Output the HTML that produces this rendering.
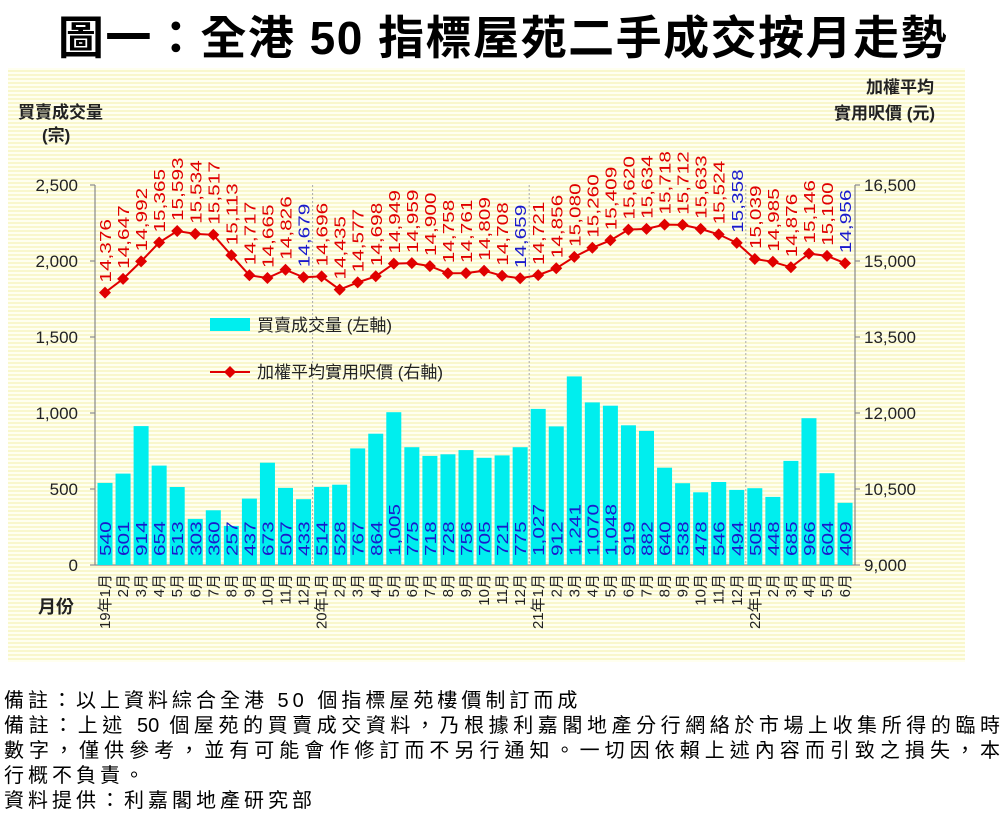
<!DOCTYPE html>
<html><head><meta charset="utf-8"><style>
body{margin:0;background:#fff;width:1006px;height:839px;overflow:hidden;font-family:"Liberation Sans","Noto Sans CJK TC",sans-serif}
.bg{position:absolute;left:8px;top:68px;width:957px;height:594px;background:repeating-linear-gradient(180deg,#fffff0 0px,#fffff0 2px,#f9f7cc 2px,#f9f7cc 4px)}
.title{position:absolute;left:0;top:2px;width:1006px;text-align:center;font-size:46px;font-weight:bold;color:#000;letter-spacing:1.5px;white-space:nowrap}
.notes{position:absolute;left:4px;top:689px;font-size:20px;line-height:25px;color:#000;width:998px;letter-spacing:4px;white-space:nowrap}
.notes div{height:25px}
.notes .j{text-align:justify;text-align-last:justify;letter-spacing:0;width:996px}
svg{position:absolute;left:0;top:0}
</style></head><body>
<div class="bg"></div>
<div class="title">圖一：全港 50 指標屋苑二手成交按月走勢</div>
<svg width="1006" height="839" font-family="Liberation Sans, Noto Sans CJK TC, sans-serif">
<g font-size="17" font-weight="bold" fill="#222">
<text x="18" y="118">買賣成交量</text><text x="42" y="141">(宗)</text>
<text x="866" y="93">加權平均</text><text x="834" y="119">實用呎價 (元)</text>
<text x="38" y="613" font-size="18">月份</text>
</g>
<g stroke="#888" stroke-width="1.2">
<line x1="95" y1="185" x2="95" y2="565"/><line x1="855" y1="185" x2="855" y2="565"/><line x1="95" y1="565" x2="855" y2="565"/>
<line x1="90" y1="185" x2="95" y2="185"/><line x1="90" y1="261" x2="95" y2="261"/><line x1="90" y1="337" x2="95" y2="337"/><line x1="90" y1="413" x2="95" y2="413"/><line x1="90" y1="489" x2="95" y2="489"/><line x1="90" y1="565" x2="95" y2="565"/>
<line x1="855" y1="185" x2="860" y2="185"/><line x1="855" y1="261" x2="860" y2="261"/><line x1="855" y1="337" x2="860" y2="337"/><line x1="855" y1="413" x2="860" y2="413"/><line x1="855" y1="489" x2="860" y2="489"/><line x1="855" y1="565" x2="860" y2="565"/>
</g>
<g stroke="#aaa" stroke-width="1" stroke-dasharray="2,2">
<line x1="312.6" y1="185" x2="312.6" y2="565"/><line x1="529.2" y1="185" x2="529.2" y2="565"/><line x1="745.8" y1="185" x2="745.8" y2="565"/>
</g>
<g font-size="17" fill="#222" text-anchor="end">
<text x="78" y="191">2,500</text><text x="78" y="267">2,000</text><text x="78" y="343">1,500</text><text x="78" y="419">1,000</text><text x="78" y="495">500</text><text x="78" y="571">0</text>
</g>
<g font-size="17" fill="#222">
<text x="864" y="191">16,500</text><text x="864" y="267">15,000</text><text x="864" y="343">13,500</text><text x="864" y="419">12,000</text><text x="864" y="495">10,500</text><text x="864" y="571">9,000</text>
</g>
<g fill="#00eeee">
<rect x="97.5" y="482.9" width="15" height="82.1"/><rect x="115.55" y="473.6" width="15" height="91.4"/><rect x="133.6" y="426.1" width="15" height="138.9"/><rect x="151.65" y="465.6" width="15" height="99.4"/><rect x="169.7" y="487" width="15" height="78"/><rect x="187.75" y="518.9" width="15" height="46.1"/><rect x="205.8" y="510.3" width="15" height="54.7"/><rect x="223.85" y="525.9" width="15" height="39.1"/><rect x="241.9" y="498.6" width="15" height="66.4"/><rect x="259.95" y="462.7" width="15" height="102.3"/><rect x="278" y="487.9" width="15" height="77.1"/><rect x="296.05" y="499.2" width="15" height="65.8"/>
<rect x="314.1" y="486.9" width="15" height="78.1"/><rect x="332.15" y="484.7" width="15" height="80.3"/><rect x="350.2" y="448.4" width="15" height="116.6"/><rect x="368.25" y="433.7" width="15" height="131.3"/><rect x="386.3" y="412.2" width="15" height="152.8"/><rect x="404.35" y="447.2" width="15" height="117.8"/><rect x="422.4" y="455.9" width="15" height="109.1"/><rect x="440.45" y="454.3" width="15" height="110.7"/><rect x="458.5" y="450.1" width="15" height="114.9"/><rect x="476.55" y="457.8" width="15" height="107.2"/><rect x="494.6" y="455.4" width="15" height="109.6"/><rect x="512.65" y="447.2" width="15" height="117.8"/>
<rect x="530.7" y="408.9" width="15" height="156.1"/><rect x="548.75" y="426.4" width="15" height="138.6"/><rect x="566.8" y="376.4" width="15" height="188.6"/><rect x="584.85" y="402.4" width="15" height="162.6"/><rect x="602.9" y="405.7" width="15" height="159.3"/><rect x="620.95" y="425.3" width="15" height="139.7"/><rect x="639" y="430.9" width="15" height="134.1"/><rect x="657.05" y="467.7" width="15" height="97.3"/><rect x="675.1" y="483.2" width="15" height="81.8"/><rect x="693.15" y="492.3" width="15" height="72.7"/><rect x="711.2" y="482" width="15" height="83"/><rect x="729.25" y="489.9" width="15" height="75.1"/>
<rect x="747.3" y="488.2" width="15" height="76.8"/><rect x="765.35" y="496.9" width="15" height="68.1"/><rect x="783.4" y="460.9" width="15" height="104.1"/><rect x="801.45" y="418.2" width="15" height="146.8"/><rect x="819.5" y="473.2" width="15" height="91.8"/><rect x="837.55" y="502.8" width="15" height="62.2"/>
<rect x="210" y="318" width="40" height="13"/>
</g>
<g font-size="16" fill="#1a1acc">
<text transform="translate(111,556) rotate(-90) scale(1.3,1)">540</text><text transform="translate(129.05,556) rotate(-90) scale(1.3,1)">601</text><text transform="translate(147.1,556) rotate(-90) scale(1.3,1)">914</text><text transform="translate(165.15,556) rotate(-90) scale(1.3,1)">654</text><text transform="translate(183.2,556) rotate(-90) scale(1.3,1)">513</text><text transform="translate(201.25,556) rotate(-90) scale(1.3,1)">303</text><text transform="translate(219.3,556) rotate(-90) scale(1.3,1)">360</text><text transform="translate(237.35,556) rotate(-90) scale(1.3,1)">257</text><text transform="translate(255.4,556) rotate(-90) scale(1.3,1)">437</text><text transform="translate(273.45,556) rotate(-90) scale(1.3,1)">673</text><text transform="translate(291.5,556) rotate(-90) scale(1.3,1)">507</text><text transform="translate(309.55,556) rotate(-90) scale(1.3,1)">433</text>
<text transform="translate(327.6,556) rotate(-90) scale(1.3,1)">514</text><text transform="translate(345.65,556) rotate(-90) scale(1.3,1)">528</text><text transform="translate(363.7,556) rotate(-90) scale(1.3,1)">767</text><text transform="translate(381.75,556) rotate(-90) scale(1.3,1)">864</text><text transform="translate(399.8,556) rotate(-90) scale(1.3,1)">1,005</text><text transform="translate(417.85,556) rotate(-90) scale(1.3,1)">775</text><text transform="translate(435.9,556) rotate(-90) scale(1.3,1)">718</text><text transform="translate(453.95,556) rotate(-90) scale(1.3,1)">728</text><text transform="translate(472,556) rotate(-90) scale(1.3,1)">756</text><text transform="translate(490.05,556) rotate(-90) scale(1.3,1)">705</text><text transform="translate(508.1,556) rotate(-90) scale(1.3,1)">721</text><text transform="translate(526.15,556) rotate(-90) scale(1.3,1)">775</text>
<text transform="translate(544.2,556) rotate(-90) scale(1.3,1)">1,027</text><text transform="translate(562.25,556) rotate(-90) scale(1.3,1)">912</text><text transform="translate(580.3,556) rotate(-90) scale(1.3,1)">1,241</text><text transform="translate(598.35,556) rotate(-90) scale(1.3,1)">1,070</text><text transform="translate(616.4,556) rotate(-90) scale(1.3,1)">1,048</text><text transform="translate(634.45,556) rotate(-90) scale(1.3,1)">919</text><text transform="translate(652.5,556) rotate(-90) scale(1.3,1)">882</text><text transform="translate(670.55,556) rotate(-90) scale(1.3,1)">640</text><text transform="translate(688.6,556) rotate(-90) scale(1.3,1)">538</text><text transform="translate(706.65,556) rotate(-90) scale(1.3,1)">478</text><text transform="translate(724.7,556) rotate(-90) scale(1.3,1)">546</text><text transform="translate(742.75,556) rotate(-90) scale(1.3,1)">494</text>
<text transform="translate(760.8,556) rotate(-90) scale(1.3,1)">505</text><text transform="translate(778.85,556) rotate(-90) scale(1.3,1)">448</text><text transform="translate(796.9,556) rotate(-90) scale(1.3,1)">685</text><text transform="translate(814.95,556) rotate(-90) scale(1.3,1)">966</text><text transform="translate(833,556) rotate(-90) scale(1.3,1)">604</text><text transform="translate(851.05,556) rotate(-90) scale(1.3,1)">409</text>
</g>
<polyline fill="none" stroke="#e00000" stroke-width="2" points="105,292.6 123.05,278.9 141.1,261.4 159.15,242.5 177.2,231 195.25,233.9 213.3,234.8 231.35,255.3 249.4,275.3 267.45,278 285.5,269.8 303.55,277.3 321.6,276.4 339.65,289.6 357.7,282.4 375.75,276.3 393.8,263.6 411.85,263.1 429.9,266.1 447.95,273.3 466,273.1 484.05,270.7 502.1,275.8 520.15,278.3 538.2,275.1 556.25,268.3 574.3,256.9 592.35,247.8 610.4,240.3 628.45,229.6 646.5,228.9 664.55,224.6 682.6,224.9 700.65,228.9 718.7,234.4 736.75,242.9 754.8,259 772.85,261.8 790.9,267.3 808.95,253.6 827,255.9 845.05,263.2"/>
<line x1="210" y1="372" x2="250" y2="372" stroke="#e00000" stroke-width="2"/>
<g fill="#e00000">
<path d="M0,-6L6,0L0,6L-6,0Z" transform="translate(105,292.6)"/>
<path d="M0,-6L6,0L0,6L-6,0Z" transform="translate(123.05,278.9)"/><path d="M0,-6L6,0L0,6L-6,0Z" transform="translate(141.1,261.4)"/><path d="M0,-6L6,0L0,6L-6,0Z" transform="translate(159.15,242.5)"/><path d="M0,-6L6,0L0,6L-6,0Z" transform="translate(177.2,231)"/><path d="M0,-6L6,0L0,6L-6,0Z" transform="translate(195.25,233.9)"/><path d="M0,-6L6,0L0,6L-6,0Z" transform="translate(213.3,234.8)"/><path d="M0,-6L6,0L0,6L-6,0Z" transform="translate(231.35,255.3)"/><path d="M0,-6L6,0L0,6L-6,0Z" transform="translate(249.4,275.3)"/><path d="M0,-6L6,0L0,6L-6,0Z" transform="translate(267.45,278)"/><path d="M0,-6L6,0L0,6L-6,0Z" transform="translate(285.5,269.8)"/><path d="M0,-6L6,0L0,6L-6,0Z" transform="translate(303.55,277.3)"/>
<path d="M0,-6L6,0L0,6L-6,0Z" transform="translate(321.6,276.4)"/><path d="M0,-6L6,0L0,6L-6,0Z" transform="translate(339.65,289.6)"/><path d="M0,-6L6,0L0,6L-6,0Z" transform="translate(357.7,282.4)"/><path d="M0,-6L6,0L0,6L-6,0Z" transform="translate(375.75,276.3)"/><path d="M0,-6L6,0L0,6L-6,0Z" transform="translate(393.8,263.6)"/><path d="M0,-6L6,0L0,6L-6,0Z" transform="translate(411.85,263.1)"/><path d="M0,-6L6,0L0,6L-6,0Z" transform="translate(429.9,266.1)"/><path d="M0,-6L6,0L0,6L-6,0Z" transform="translate(447.95,273.3)"/><path d="M0,-6L6,0L0,6L-6,0Z" transform="translate(466,273.1)"/><path d="M0,-6L6,0L0,6L-6,0Z" transform="translate(484.05,270.7)"/><path d="M0,-6L6,0L0,6L-6,0Z" transform="translate(502.1,275.8)"/><path d="M0,-6L6,0L0,6L-6,0Z" transform="translate(520.15,278.3)"/>
<path d="M0,-6L6,0L0,6L-6,0Z" transform="translate(538.2,275.1)"/><path d="M0,-6L6,0L0,6L-6,0Z" transform="translate(556.25,268.3)"/><path d="M0,-6L6,0L0,6L-6,0Z" transform="translate(574.3,256.9)"/><path d="M0,-6L6,0L0,6L-6,0Z" transform="translate(592.35,247.8)"/><path d="M0,-6L6,0L0,6L-6,0Z" transform="translate(610.4,240.3)"/><path d="M0,-6L6,0L0,6L-6,0Z" transform="translate(628.45,229.6)"/><path d="M0,-6L6,0L0,6L-6,0Z" transform="translate(646.5,228.9)"/><path d="M0,-6L6,0L0,6L-6,0Z" transform="translate(664.55,224.6)"/><path d="M0,-6L6,0L0,6L-6,0Z" transform="translate(682.6,224.9)"/><path d="M0,-6L6,0L0,6L-6,0Z" transform="translate(700.65,228.9)"/><path d="M0,-6L6,0L0,6L-6,0Z" transform="translate(718.7,234.4)"/><path d="M0,-6L6,0L0,6L-6,0Z" transform="translate(736.75,242.9)"/>
<path d="M0,-6L6,0L0,6L-6,0Z" transform="translate(754.8,259)"/><path d="M0,-6L6,0L0,6L-6,0Z" transform="translate(772.85,261.8)"/><path d="M0,-6L6,0L0,6L-6,0Z" transform="translate(790.9,267.3)"/><path d="M0,-6L6,0L0,6L-6,0Z" transform="translate(808.95,253.6)"/><path d="M0,-6L6,0L0,6L-6,0Z" transform="translate(827,255.9)"/><path d="M0,-6L6,0L0,6L-6,0Z" transform="translate(845.05,263.2)"/>
<path d="M0,-6L6,0L0,6L-6,0Z" transform="translate(230,372)"/>
</g>
<g font-size="16" fill="#e00000">
<text transform="translate(111,282.6) rotate(-90) scale(1.3,1)">14,376</text><text transform="translate(129.05,268.9) rotate(-90) scale(1.3,1)">14,647</text><text transform="translate(147.1,251.4) rotate(-90) scale(1.3,1)">14,992</text><text transform="translate(165.15,232.5) rotate(-90) scale(1.3,1)">15,365</text><text transform="translate(183.2,221) rotate(-90) scale(1.3,1)">15,593</text><text transform="translate(201.25,223.9) rotate(-90) scale(1.3,1)">15,534</text><text transform="translate(219.3,224.8) rotate(-90) scale(1.3,1)">15,517</text><text transform="translate(237.35,245.3) rotate(-90) scale(1.3,1)">15,113</text><text transform="translate(255.4,265.3) rotate(-90) scale(1.3,1)">14,717</text><text transform="translate(273.45,268) rotate(-90) scale(1.3,1)">14,665</text><text transform="translate(291.5,259.8) rotate(-90) scale(1.3,1)">14,826</text><text fill="#1a1acc" transform="translate(309.55,267.3) rotate(-90) scale(1.3,1)">14,679</text>
<text transform="translate(327.6,266.4) rotate(-90) scale(1.3,1)">14,696</text><text transform="translate(345.65,279.6) rotate(-90) scale(1.3,1)">14,435</text><text transform="translate(363.7,272.4) rotate(-90) scale(1.3,1)">14,577</text><text transform="translate(381.75,266.3) rotate(-90) scale(1.3,1)">14,698</text><text transform="translate(399.8,253.6) rotate(-90) scale(1.3,1)">14,949</text><text transform="translate(417.85,253.1) rotate(-90) scale(1.3,1)">14,959</text><text transform="translate(435.9,256.1) rotate(-90) scale(1.3,1)">14,900</text><text transform="translate(453.95,263.3) rotate(-90) scale(1.3,1)">14,758</text><text transform="translate(472,263.1) rotate(-90) scale(1.3,1)">14,761</text><text transform="translate(490.05,260.7) rotate(-90) scale(1.3,1)">14,809</text><text transform="translate(508.1,265.8) rotate(-90) scale(1.3,1)">14,708</text><text fill="#1a1acc" transform="translate(526.15,268.3) rotate(-90) scale(1.3,1)">14,659</text>
<text transform="translate(544.2,265.1) rotate(-90) scale(1.3,1)">14,721</text><text transform="translate(562.25,258.3) rotate(-90) scale(1.3,1)">14,856</text><text transform="translate(580.3,246.9) rotate(-90) scale(1.3,1)">15,080</text><text transform="translate(598.35,237.8) rotate(-90) scale(1.3,1)">15,260</text><text transform="translate(616.4,230.3) rotate(-90) scale(1.3,1)">15,409</text><text transform="translate(634.45,219.6) rotate(-90) scale(1.3,1)">15,620</text><text transform="translate(652.5,218.9) rotate(-90) scale(1.3,1)">15,634</text><text transform="translate(670.55,214.6) rotate(-90) scale(1.3,1)">15,718</text><text transform="translate(688.6,214.9) rotate(-90) scale(1.3,1)">15,712</text><text transform="translate(706.65,218.9) rotate(-90) scale(1.3,1)">15,633</text><text transform="translate(724.7,224.4) rotate(-90) scale(1.3,1)">15,524</text><text fill="#1a1acc" transform="translate(742.75,232.9) rotate(-90) scale(1.3,1)">15,358</text>
<text transform="translate(760.8,249) rotate(-90) scale(1.3,1)">15,039</text><text transform="translate(778.85,251.8) rotate(-90) scale(1.3,1)">14,985</text><text transform="translate(796.9,257.3) rotate(-90) scale(1.3,1)">14,876</text><text transform="translate(814.95,243.6) rotate(-90) scale(1.3,1)">15,146</text><text transform="translate(833,245.9) rotate(-90) scale(1.3,1)">15,100</text><text fill="#1a1acc" transform="translate(851.05,253.2) rotate(-90) scale(1.3,1)">14,956</text>
</g>
<g font-size="17" fill="#222">
<text x="257" y="331">買賣成交量 (左軸)</text>
<text x="257" y="378">加權平均實用呎價 (右軸)</text>
</g>
<g font-size="15" fill="#222" text-anchor="end">
<text transform="translate(110,574) rotate(-90)">19年1月</text><text transform="translate(128.05,574) rotate(-90)">2月</text><text transform="translate(146.1,574) rotate(-90)">3月</text><text transform="translate(164.15,574) rotate(-90)">4月</text><text transform="translate(182.2,574) rotate(-90)">5月</text><text transform="translate(200.25,574) rotate(-90)">6月</text><text transform="translate(218.3,574) rotate(-90)">7月</text><text transform="translate(236.35,574) rotate(-90)">8月</text><text transform="translate(254.4,574) rotate(-90)">9月</text><text transform="translate(272.45,574) rotate(-90)">10月</text><text transform="translate(290.5,574) rotate(-90)">11月</text><text transform="translate(308.55,574) rotate(-90)">12月</text>
<text transform="translate(326.6,574) rotate(-90)">20年1月</text><text transform="translate(344.65,574) rotate(-90)">2月</text><text transform="translate(362.7,574) rotate(-90)">3月</text><text transform="translate(380.75,574) rotate(-90)">4月</text><text transform="translate(398.8,574) rotate(-90)">5月</text><text transform="translate(416.85,574) rotate(-90)">6月</text><text transform="translate(434.9,574) rotate(-90)">7月</text><text transform="translate(452.95,574) rotate(-90)">8月</text><text transform="translate(471,574) rotate(-90)">9月</text><text transform="translate(489.05,574) rotate(-90)">10月</text><text transform="translate(507.1,574) rotate(-90)">11月</text><text transform="translate(525.15,574) rotate(-90)">12月</text>
<text transform="translate(543.2,574) rotate(-90)">21年1月</text><text transform="translate(561.25,574) rotate(-90)">2月</text><text transform="translate(579.3,574) rotate(-90)">3月</text><text transform="translate(597.35,574) rotate(-90)">4月</text><text transform="translate(615.4,574) rotate(-90)">5月</text><text transform="translate(633.45,574) rotate(-90)">6月</text><text transform="translate(651.5,574) rotate(-90)">7月</text><text transform="translate(669.55,574) rotate(-90)">8月</text><text transform="translate(687.6,574) rotate(-90)">9月</text><text transform="translate(705.65,574) rotate(-90)">10月</text><text transform="translate(723.7,574) rotate(-90)">11月</text><text transform="translate(741.75,574) rotate(-90)">12月</text>
<text transform="translate(759.8,574) rotate(-90)">22年1月</text><text transform="translate(777.85,574) rotate(-90)">2月</text><text transform="translate(795.9,574) rotate(-90)">3月</text><text transform="translate(813.95,574) rotate(-90)">4月</text><text transform="translate(832,574) rotate(-90)">5月</text><text transform="translate(850.05,574) rotate(-90)">6月</text>
</g>
</svg>
<div class="notes"><div>備註：以上資料綜合全港 50 個指標屋苑樓價制訂而成</div><div class="j">備註：上述 50 個屋苑的買賣成交資料，乃根據利嘉閣地產分行網絡於市場上收集所得的臨時</div><div class="j">數字，僅供參考，並有可能會作修訂而不另行通知。一切因依賴上述內容而引致之損失，本</div><div>行概不負責。</div><div>資料提供：利嘉閣地產研究部</div></div>
</body></html>
